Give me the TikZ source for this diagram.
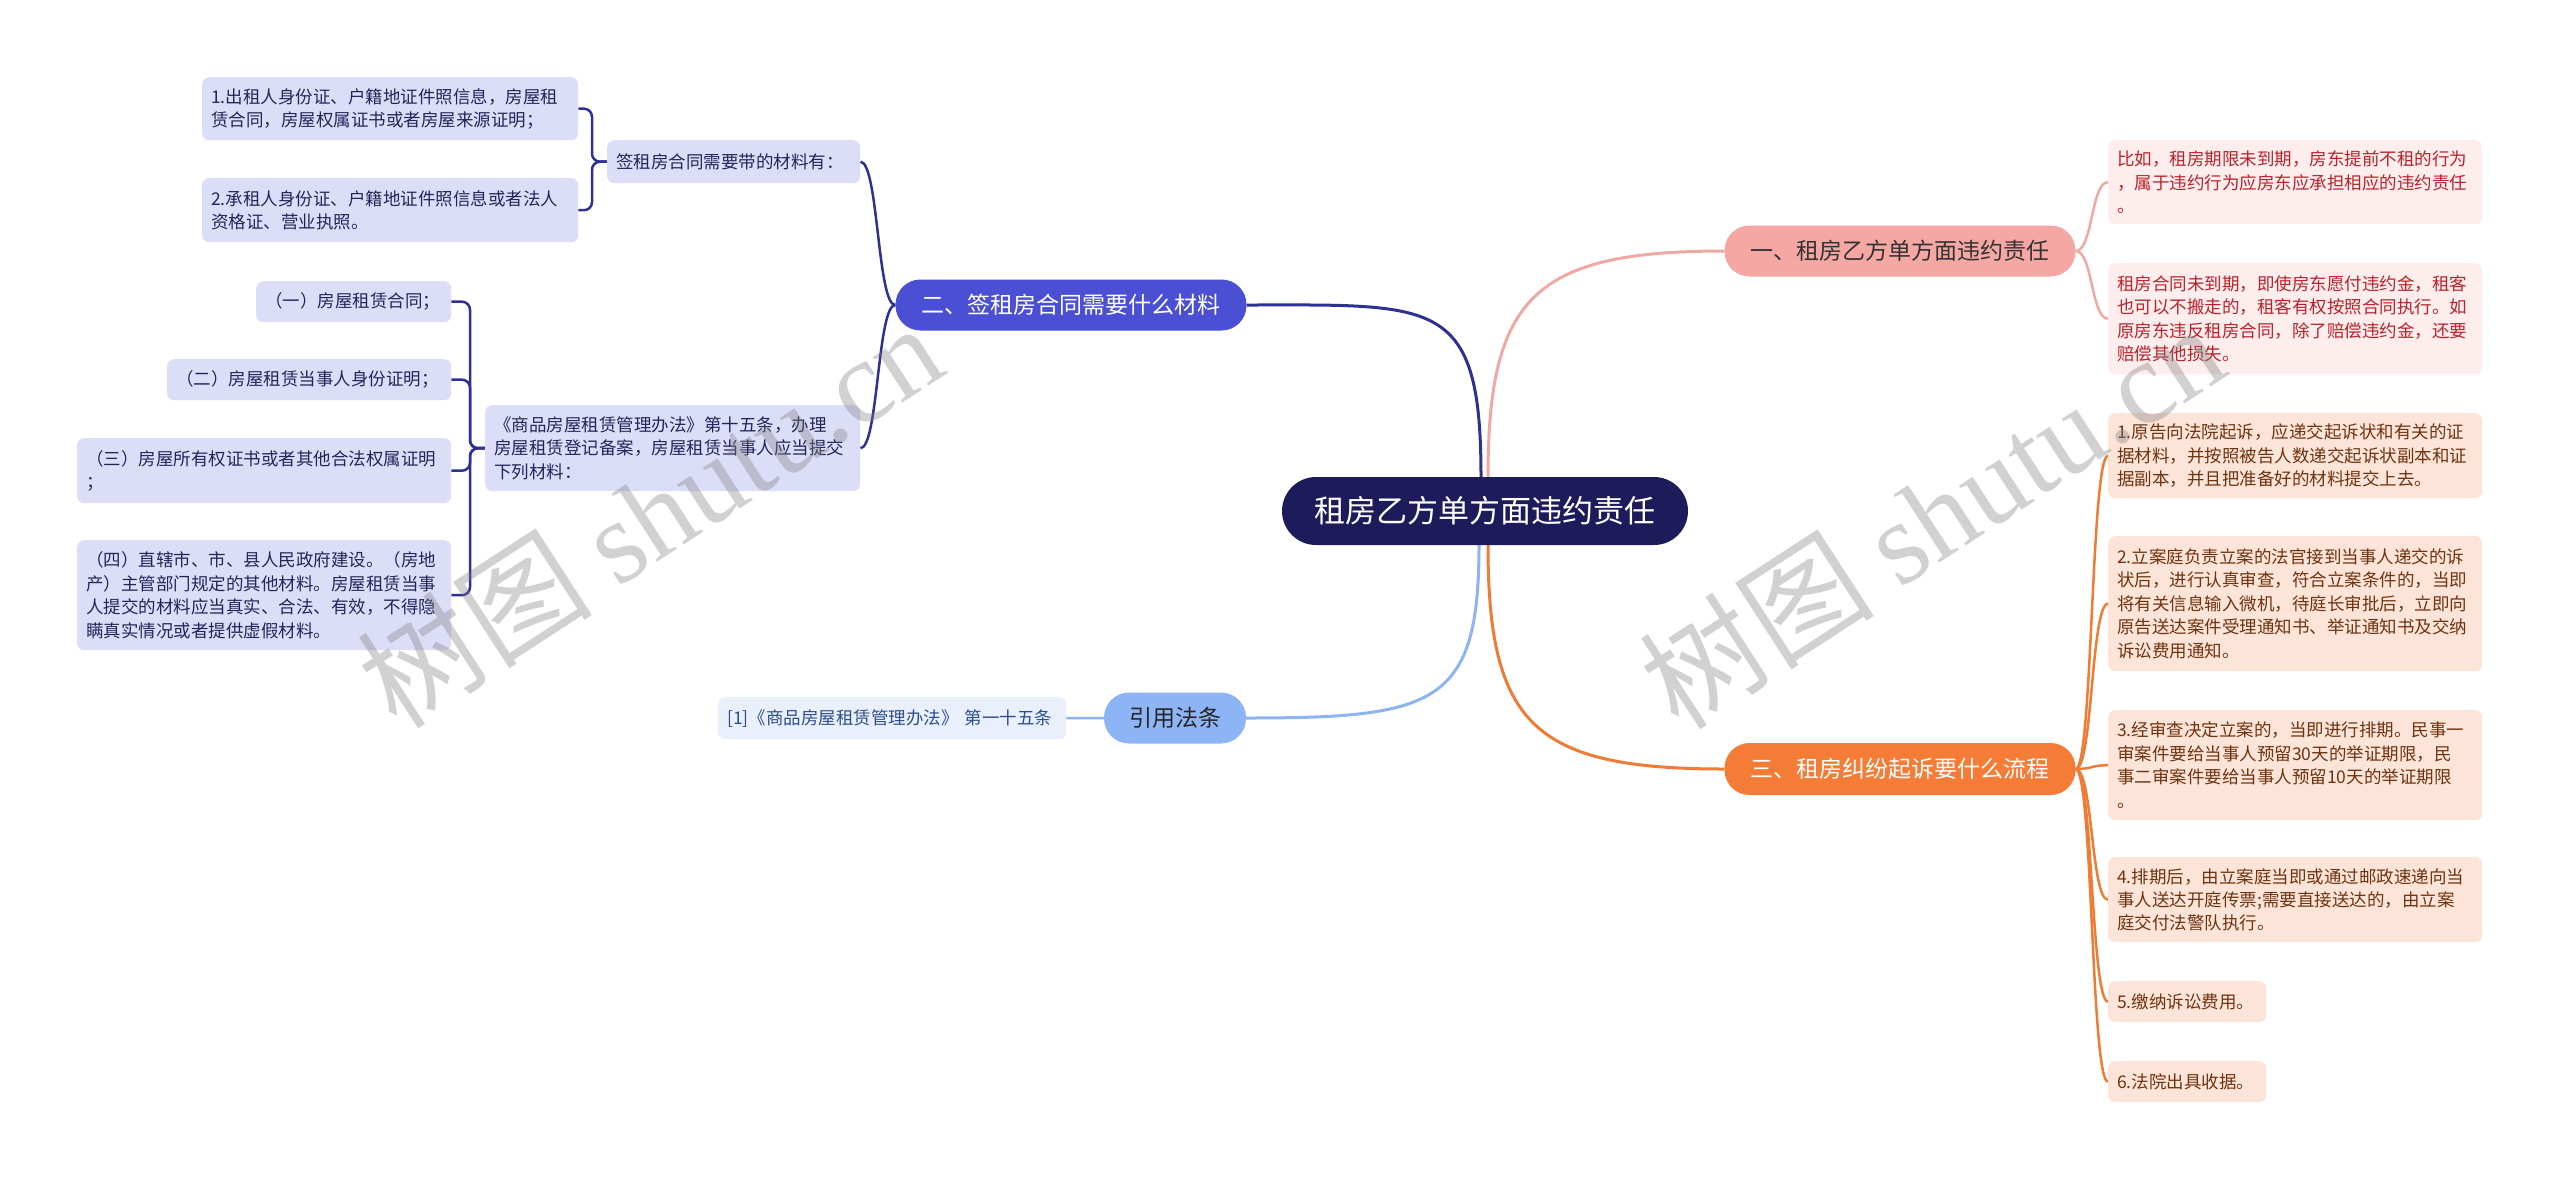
\documentclass[tikz,border=0pt]{standalone}
\usepackage{fontspec}
\setmainfont{Noto Sans CJK SC}
\newfontfamily\wmlatin{Liberation Serif}
\usetikzlibrary{backgrounds}
\definecolor{rootc}{HTML}{1E1B5B}
\definecolor{btwo}{HTML}{4A4FD3}
\definecolor{lavfill}{HTML}{DCDDF7}
\definecolor{lavtext}{HTML}{25255A}
\definecolor{navyline}{HTML}{2E3192}
\definecolor{bone}{HTML}{F4A7A3}
\definecolor{pinkline}{HTML}{F0A8A3}
\definecolor{rosefill}{HTML}{FDEDED}
\definecolor{rosetext}{HTML}{B8232B}
\definecolor{bthree}{HTML}{8DB4F5}
\definecolor{skyline}{HTML}{8DB4F0}
\definecolor{skyfill}{HTML}{E9F0FC}
\definecolor{skytext}{HTML}{2D4E8A}
\definecolor{bfour}{HTML}{F47C36}
\definecolor{orline}{HTML}{EE7C34}
\definecolor{peachfill}{HTML}{FDE4D8}
\definecolor{peachtext}{HTML}{6E3410}
\begin{document}
\begin{tikzpicture}[x=1pt,y=-1pt,
  rootbox/.style={fill=rootc, text=white, rounded corners=34pt, minimum width=406pt, minimum height=68pt, inner sep=0pt, font=\fontsize{31}{38}\selectfont},
  branchbox/.style={rounded corners=25pt, minimum height=51pt, inner sep=0pt, font=\fontsize{23}{28}\selectfont},
  leafbox/.style={rounded corners=7pt, anchor=north west, inner xsep=9pt, inner ysep=0pt, align=left, font=\fontsize{17.5}{23.4}\selectfont},
  lavleaf/.style={leafbox, fill=lavfill, text=lavtext},
  roseleaf/.style={leafbox, fill=rosefill, text=rosetext},
  peachleaf/.style={leafbox, fill=peachfill, text=peachtext},
  mainline/.style={line width=3pt},
  subline/.style={line width=2.5pt},
  wmark/.style={text=gray, opacity=0.36, rotate=33, inner sep=0pt}
]
\useasboundingbox (0,0) rectangle (2560,1179);

% root and branches
\node[rootbox] (root) at (1485,511) {租房乙方单方面违约责任};
\node[branchbox, fill=bone, text=black!80, minimum width=351pt] (b1) at (1900,251) {一、租房乙方单方面违约责任};
\node[branchbox, fill=btwo, text=white, minimum width=351pt] (b2) at (1071,305) {二、签租房合同需要什么材料};
\node[branchbox, fill=bthree, text=black!85, minimum width=142pt] (b3) at (1175,718) {引用法条};
\node[branchbox, fill=bfour, text=white, minimum width=351pt, minimum height=52pt] (b4) at (1900,769) {三、租房纠纷起诉要什么流程};

% left side
\node[lavleaf, text width=358pt, minimum height=63pt] (l1a) at (202,77) {1.出租人身份证、户籍地证件照信息，房屋租\\赁合同，房屋权属证书或者房屋来源证明；};
\node[lavleaf, text width=358pt, minimum height=64pt] (l1b) at (202,178) {2.承租人身份证、户籍地证件照信息或者法人\\资格证、营业执照。};
\node[lavleaf, text width=235pt, minimum height=43pt] (l1p) at (607,140) {签租房合同需要带的材料有：};
\node[lavleaf, text width=357pt, minimum height=86pt] (l2p) at (485,405) {《商品房屋租赁管理办法》第十五条，办理\\房屋租赁登记备案，房屋租赁当事人应当提交\\下列材料：};
\node[lavleaf, text width=177pt, minimum height=41pt] (l2a) at (256,281) {（一）房屋租赁合同；};
\node[lavleaf, text width=266pt, minimum height=41pt] (l2b) at (167,359) {（二）房屋租赁当事人身份证明；};
\node[lavleaf, text width=356pt, minimum height=65pt] (l2c) at (77,438) {（三）房屋所有权证书或者其他合法权属证明\\；};
\node[lavleaf, text width=356pt, minimum height=110pt] (l2d) at (77,540) {（四）直辖市、市、县人民政府建设。（房地\\产）主管部门规定的其他材料。房屋租赁当事\\人提交的材料应当真实、合法、有效，不得隐\\瞒真实情况或者提供虚假材料。};

\node[leafbox, fill=skyfill, text=skytext, text width=330pt, minimum height=42pt] (cite) at (718,697) {[1]《商品房屋租赁管理办法》 第一十五条};

% right side
\node[roseleaf, text width=356pt, minimum height=84pt] (r1a) at (2108,140) {比如，租房期限未到期，房东提前不租的行为\\，属于违约行为应房东应承担相应的违约责任\\。};
\node[roseleaf, text width=356pt, minimum height=111pt] (r1b) at (2108,263) {租房合同未到期，即使房东愿付违约金，租客\\也可以不搬走的，租客有权按照合同执行。如\\原房东违反租房合同，除了赔偿违约金，还要\\赔偿其他损失。};

\node[peachleaf, text width=356pt, minimum height=85pt] (r4a) at (2108,413) {1.原告向法院起诉，应递交起诉状和有关的证\\据材料，并按照被告人数递交起诉状副本和证\\据副本，并且把准备好的材料提交上去。};
\node[peachleaf, text width=356pt, minimum height=135pt] (r4b) at (2108,536) {2.立案庭负责立案的法官接到当事人递交的诉\\状后，进行认真审查，符合立案条件的，当即\\将有关信息输入微机，待庭长审批后，立即向\\原告送达案件受理通知书、举证通知书及交纳\\诉讼费用通知。};
\node[peachleaf, text width=356pt, minimum height=110pt] (r4c) at (2108,710) {3.经审查决定立案的，当即进行排期。民事一\\审案件要给当事人预留30天的举证期限，民\\事二审案件要给当事人预留10天的举证期限\\。};
\node[peachleaf, text width=356pt, minimum height=85pt] (r4d) at (2108,857) {4.排期后，由立案庭当即或通过邮政速递向当\\事人送达开庭传票;需要直接送达的，由立案\\庭交付法警队执行。};
\node[peachleaf, text width=140pt, minimum height=41pt] (r4e) at (2108,981) {5.缴纳诉讼费用。};
\node[peachleaf, text width=140pt, minimum height=41pt] (r4f) at (2108,1061) {6.法院出具收据。};

% connectors
\begin{scope}[on background layer]
\fill[white] (0,0) rectangle (2560,1179);
\draw[mainline, pinkline] ([xshift=3pt]root.north) .. controls +(0,-180) and +(-190,0) .. (b1.west);
\draw[mainline, navyline] ([xshift=-4pt]root.north) .. controls +(0,-180) and +(190,0) .. (b2.east);
\draw[mainline, skyline] ([xshift=-6pt]root.south) .. controls +(0,160) and +(190,0) .. (b3.east);
\draw[mainline, orline] ([xshift=3pt]root.south) .. controls +(0,180) and +(-190,0) .. (b4.west);

\foreach \c in {l1p,l2p}
  \draw[subline, navyline] (b2.west) .. controls +(-18,0) and +(18,0) .. (\c.east);
\foreach \c in {l1a,l1b}
  \draw[subline, navyline, rounded corners=8pt] (l1p.west) -- ++(-15,0) |- (\c.east);
\foreach \c in {l2a,l2b,l2c,l2d}
  \draw[subline, navyline, rounded corners=8pt] (l2p.west) -- ++(-15,0) |- (\c.east);
\draw[subline, skyline] (b3.west) -- (cite.east);
\foreach \c in {r1a,r1b}
  \draw[subline, pinkline] (b1.east) .. controls +(17,0) and +(-17,0) .. (\c.west);
\foreach \c in {r4a,r4b,r4c,r4d,r4e,r4f}
  \draw[subline, orline] (b4.east) .. controls +(17,0) and +(-17,0) .. (\c.west);
\end{scope}

% watermarks
\node[wmark] (wm1) at (649,514) {\fontsize{118}{118}\selectfont 树图 {\wmlatin shutu.cn}};
\node[wmark] (wm2) at (1931,515) {\fontsize{118}{118}\selectfont 树图 {\wmlatin shutu.cn}};
\end{tikzpicture}
\end{document}
